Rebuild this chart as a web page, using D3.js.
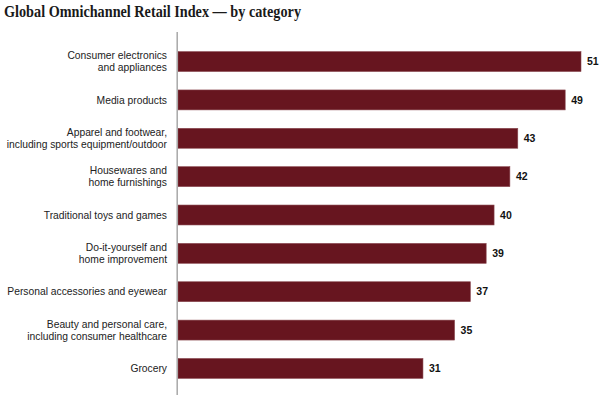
<!DOCTYPE html>
<html>
<head>
<meta charset="utf-8">
<script src="https://cdn.jsdelivr.net/npm/d3@7"></script>
<style>
  body { margin: 0; background: #fff; }
  svg { display: block; }
</style>
</head>
<body>
<div id="chart"></div>
<script>
// categories (each label may be split over two lines)
const categories = [
    ["Consumer electronics", "and appliances"],
    ["Media products"],
    ["Apparel and footwear,", "including sports equipment/outdoor"],
    ["Housewares and", "home furnishings"],
    ["Traditional toys and games"],
    ["Do-it-yourself and", "home improvement"],
    ["Personal accessories and eyewear"],
    ["Beauty and personal care,", "including consumer healthcare"],
    ["Grocery"]
]
// index values
const values = [51, 49, 43, 42, 40, 39, 37, 35, 31]

const title = "Global Omnichannel Retail Index \u2014 by category"

const width = 600, height = 395
const margin = { top: 42, right: 20, bottom: 7, left: 178 }

const svg = d3.select("#chart")
    .append("svg")
    .attr("width", width)
    .attr("height", height)

// title
svg.append("text")
    .attr("x", 4)
    .attr("y", 17)
    .attr("font-family", "'Liberation Serif', serif")
    .attr("font-weight", "bold")
    .attr("font-size", 16.5)
    .attr("fill", "#1a1a1a")
    .attr("textLength", 297)
    .attr("lengthAdjust", "spacingAndGlyphs")
    .text(title)

// x scale: 0 at the axis line, ~7.9px per unit
const x = d3.scaleLinear()
    .domain([0, 51])
    .range([margin.left, 581])

const idx = d3.range(values.length)
const y = d3.scaleBand()
    .domain(idx)
    .range([margin.top, height - margin.bottom])
    .paddingInner(0.48)
    .paddingOuter(0.25)

// bars
svg.selectAll("rect.bar")
    .data(values)
    .join("rect")
    .attr("class", "bar")
    .attr("x", x(0))
    .attr("y", (d, i) => y(i))
    .attr("width", d => x(d) - x(0))
    .attr("height", y.bandwidth())
    .attr("fill", "#67151f")
    .attr("stroke", "#8a4a52")
    .attr("stroke-width", 0.6)

// vertical axis line
svg.append("line")
    .attr("x1", 177.2).attr("x2", 177.2)
    .attr("y1", 32).attr("y2", height)
    .attr("stroke", "#a8a8a8")
    .attr("stroke-width", 1.5)

// value labels
svg.selectAll("text.val")
    .data(values)
    .join("text")
    .attr("class", "val")
    .attr("x", d => x(d) + 6)
    .attr("y", (d, i) => y(i) + y.bandwidth() / 2)
    .attr("dy", "0.35em")
    .attr("font-family", "'Liberation Sans', Arial, sans-serif")
    .attr("font-weight", "bold")
    .attr("font-size", 10.5)
    .attr("fill", "#111")
    .text(d => d)

// category labels
const labels = svg.selectAll("text.cat")
    .data(categories)
    .join("text")
    .attr("class", "cat")
    .attr("text-anchor", "end")
    .attr("font-family", "'Liberation Sans', Arial, sans-serif")
    .attr("font-size", 10.3)
    .attr("fill", "#222")
    .attr("transform", (d, i) => `translate(167,${y(i) + y.bandwidth() / 2})`)

labels.selectAll("tspan")
    .data(d => d.map((t, j) => ({ t, j, n: d.length })))
    .join("tspan")
    .attr("x", 0)
    .attr("y", d => (d.j - (d.n - 1) / 2) * 12)
    .attr("dy", "0.35em")
    .text(d => d.t)
</script>
</body>
</html>
